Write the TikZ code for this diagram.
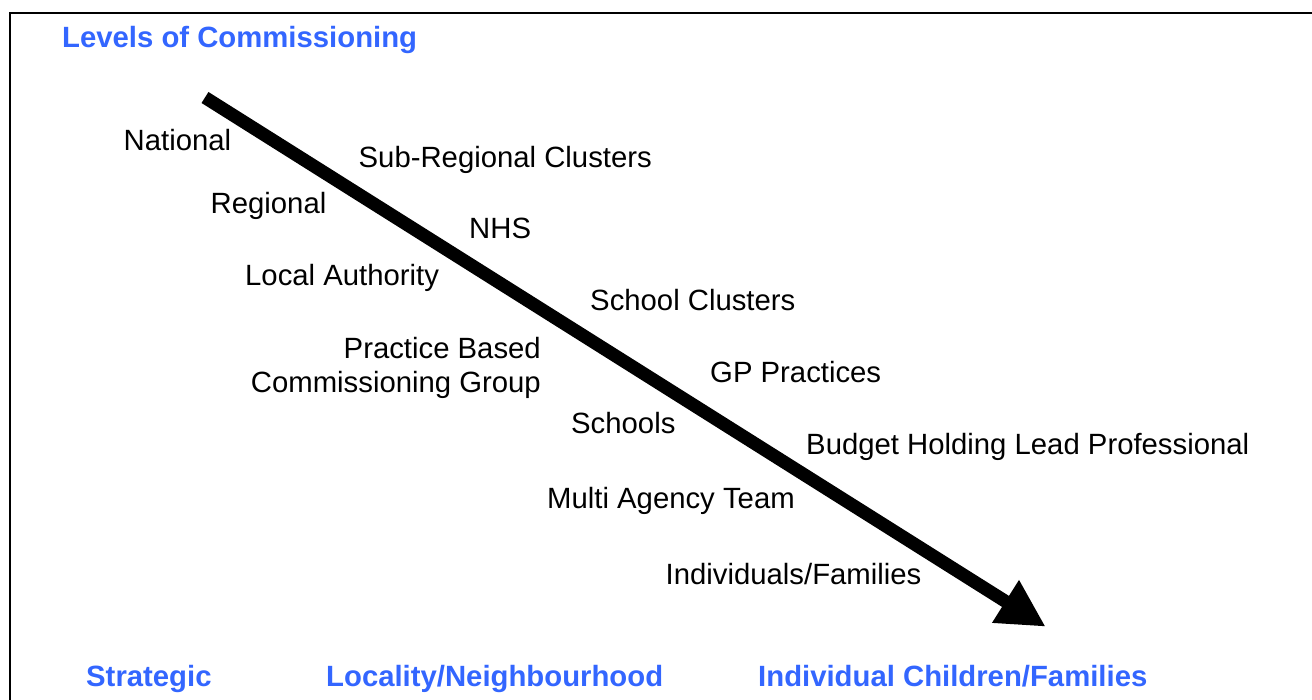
\documentclass[tikz,border=0pt]{standalone}
\usepackage{fontspec}
\setmainfont{Liberation Sans}
\usetikzlibrary{arrows.meta}
\definecolor{levelblue}{HTML}{3366FF}
\begin{document}
\begin{tikzpicture}[x=1pt,y=-1pt,
  lvl/.style={inner sep=0pt,font=\fontsize{29.3}{33}\selectfont},
  band/.style={lvl,text=levelblue,font=\fontsize{29.3}{33}\selectfont\bfseries},
  frameline/.style={line width=2.4pt,line cap=rect},
  bigarrow/.style={line width=13pt,-{Triangle[length=47.5pt,width=47pt]}}]
\useasboundingbox (0,0) rectangle (1312,700);
% open frame: top and left edges
\draw[frameline] (1313,13) -- (10,13) -- (10,701);
% title
\node[band,anchor=base west] (title) at (62,47.5) {Levels of Commissioning};
% the commissioning gradient
\coordinate (top) at (205,97.5);
\coordinate (tip) at (1045.7,626.7);
\draw[bigarrow] (top) -- (tip);
% levels left of the arrow
\node[lvl,anchor=base west] (national) at (123.5,150.5) {National};
\node[lvl,anchor=base west] (regional) at (210.5,214) {Regional};
\node[lvl,anchor=base west] (la) at (245,286) {Local Authority};
\node[lvl,anchor=base east] (pb) at (541,359) {Practice Based};
\node[lvl,anchor=base east] (pbcg) at (541,392) {Commissioning Group};
\node[lvl,anchor=base west] (schools) at (571,433) {Schools};
\node[lvl,anchor=base west] (mat) at (547,508) {Multi Agency Team};
\node[lvl,anchor=base west] (indiv) at (665.5,584) {Individuals/Families};
% levels right of the arrow
\node[lvl,anchor=base west] (subreg) at (358.5,168) {Sub-Regional Clusters};
\node[lvl,anchor=base west] (nhs) at (469,239) {NHS};
\node[lvl,anchor=base west] (schcl) at (590,311) {School Clusters};
\node[lvl,anchor=base west] (gp) at (710,383) {GP Practices};
\node[lvl,anchor=base west] (bhlp) at (806,454) {Budget Holding Lead Professional};
% bands along the bottom
\node[band,anchor=base west] (strategic) at (86,686) {Strategic};
\node[band,anchor=base west] (locality) at (326,686) {Locality/Neighbourhood};
\node[band,anchor=base west] (children) at (758,686) {Individual Children/Families};
\end{tikzpicture}
\end{document}
